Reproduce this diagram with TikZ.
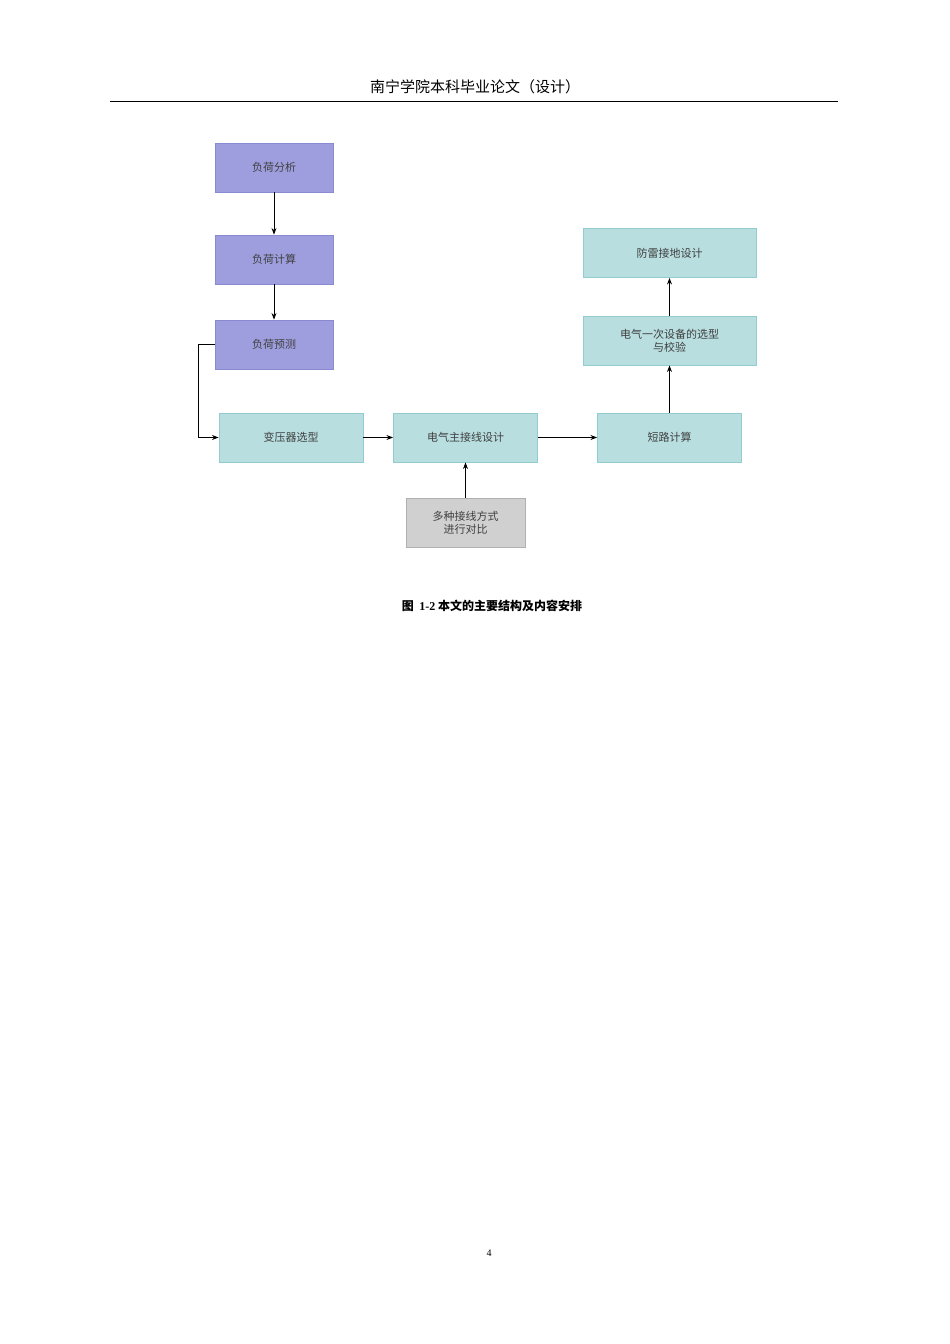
\documentclass[tikz,border=0pt]{standalone}
\usepackage{fontspec}
\setmainfont{Liberation Serif}
\newfontfamily\cjk{Noto Sans CJK SC}
\usetikzlibrary{arrows.meta}
\definecolor{loadfill}{HTML}{9E9EDE}
\definecolor{loaddraw}{HTML}{8A8AD0}
\definecolor{stepfill}{HTML}{B8DEE0}
\definecolor{stepdraw}{HTML}{92CCCF}
\definecolor{cmpfill}{HTML}{D0D0D0}
\definecolor{cmpdraw}{HTML}{B0B0B0}
\begin{document}
\begin{tikzpicture}[x=1pt, y=-1pt, ->, >=Stealth, thick,
    box/.style = {draw, minimum height=49pt, inner sep=1pt, align=center,
      font=\cjk\fontsize{11pt}{13pt}\selectfont, text=black!75},
    load/.style = {box, fill=loadfill, draw=loaddraw, minimum width=118pt},
    stage/.style = {box, fill=stepfill, draw=stepdraw, minimum width=144pt},
    cmp/.style = {box, fill=cmpfill, draw=cmpdraw, minimum width=119pt}]
    \useasboundingbox[fill=white] (0,0) rectangle (950,1344);
    % Page header
    \node[font=\cjk\fontsize{15pt}{17pt}\selectfont] (head) at (475,87) {南宁学院本科毕业论文（设计）};
    \draw[-, thin] (110,101) -- (838,101);

    % Nodes
    \node[load] (fa) at (274,167.5) {负荷分析};
    \node[load] (js) at (274,259.5) {负荷计算};
    \node[load] (yc) at (274,344.5) {负荷预测};
    \node[stage] (byq) at (291,437.5) {变压器选型};
    \node[stage] (zjx) at (465.5,437.5) {电气主接线设计};
    \node[stage] (dl) at (669.5,437.5) {短路计算};
    \node[stage, minimum width=173pt] (sb) at (669.5,340.5) {电气一次设备的选型\\与校验};
    \node[stage, minimum width=173pt] (fl) at (669.5,253) {防雷接地设计};
    \node[cmp] (db) at (465.5,522.5) {多种接线方式\\进行对比};

    % Edges
    \draw (fa) -- (js);
    \draw (js) -- (yc);
    \draw (yc.west) -| +(-16,0) |- (byq.west);
    \draw (byq) -- (zjx);
    \draw (zjx) -- (dl);
    \draw (dl) -- (sb);
    \draw (sb) -- (fl);
    \draw (db) -- (zjx);

    % Caption and page number
    \node[font=\cjk\bfseries\fontsize{12pt}{14pt}\selectfont] (cap) at (492,606) {图\ \ {\rmfamily\bfseries 1-2} 本文的主要结构及内容安排};
    \node[font=\fontsize{10pt}{12pt}\selectfont] (pg) at (489,1253) {4};
\end{tikzpicture}
\end{document}
